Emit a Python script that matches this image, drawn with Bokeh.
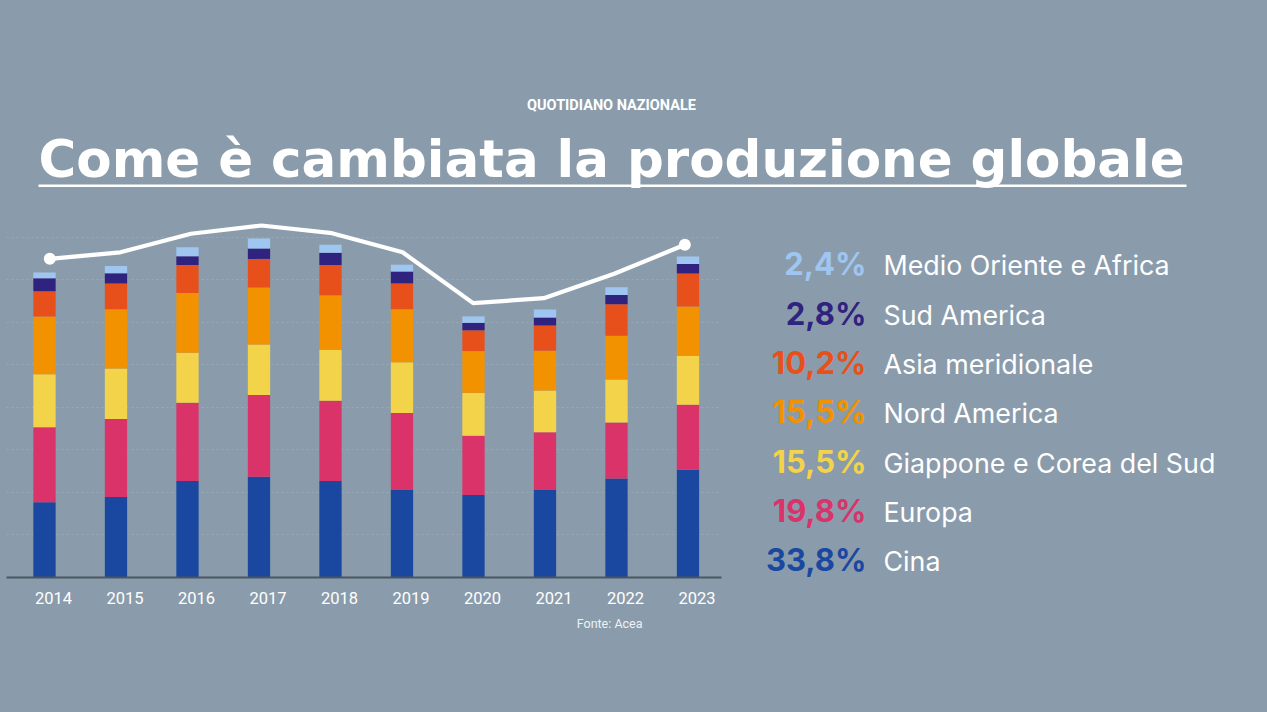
from bokeh.plotting import figure
from bokeh.models import Range1d, FixedTicker, SingleIntervalTicker, ColumnDataSource, Grid
from bokeh.layouts import column, row
from bokeh.transform import dodge
from bokeh.core.properties import value
from bokeh.embed import file_html
from bokeh.resources import INLINE

# ---------------- data ----------------
years = [2014, 2015, 2016, 2017, 2018, 2019, 2020, 2021, 2022, 2023]
# production by area (millions of vehicles)
cina = [22.1, 23.7, 28.4, 29.6, 28.4, 25.9, 24.3, 25.9, 29.1, 31.7]
europa = [22.1, 22.9, 23.0, 24.1, 23.6, 22.5, 17.4, 16.8, 16.5, 19.1]
giappone_corea = [15.6, 14.9, 14.7, 14.8, 15.0, 14.9, 12.6, 12.3, 12.6, 14.4]
nord_america = [17.0, 17.4, 17.6, 16.8, 16.0, 15.6, 12.3, 11.7, 12.9, 14.5]
asia_meridionale = [7.4, 7.6, 8.2, 8.4, 8.9, 7.6, 6.1, 7.4, 9.3, 9.7]
sud_america = [3.8, 3.0, 2.6, 3.1, 3.6, 3.5, 2.2, 2.4, 2.7, 2.8]
medio_oriente_africa = [1.7, 2.1, 2.6, 2.9, 2.4, 2.0, 1.9, 2.3, 2.3, 2.2]
# total production trend line (millions)
totale = [88.85, 90.5, 95.2, 97.3, 95.35, 90.5, 77.6, 78.85, 85.05, 92.4]

series_keys = ["cina", "europa", "giappone_corea", "nord_america",
               "asia_meridionale", "sud_america", "medio_oriente_africa"]
series_colors = ["#1a47a0", "#d9336a", "#f3d34a", "#f29200",
                 "#e8501b", "#30227f", "#9fc6f0"]

legend_pct = ["2,4%", "2,8%", "10,2%", "15,5%", "15,5%", "19,8%", "33,8%"]
legend_names = ["Medio Oriente e Africa", "Sud America", "Asia meridionale",
                "Nord America", "Giappone e Corea del Sud", "Europa", "Cina"]
legend_colors = ["#9fc6f0", "#30227f", "#e8501b", "#f29200",
                 "#f3d34a", "#d9336a", "#1a47a0"]

title_text = "Come è cambiata la produzione globale"
brand_text = "QUOTIDIANO NAZIONALE"
source_text = "Fonte: Acea"

# ---------------- style ----------------
BG = "#8a9cab"
WHITE = "#ffffff"
BL = 0.35  # baseline correction (fraction of font size)


def blank(w, h, x0, y0, top=0, bottom=0):
    f = figure(width=w, height=h,
               x_range=Range1d(x0, x0 + w),
               y_range=Range1d(y0 + h - bottom, y0 + top),
               x_axis_location=None, y_axis_location=None, toolbar_location=None,
               output_backend="svg", min_border_left=0, min_border_right=0,
               min_border_top=top, min_border_bottom=bottom)
    f.grid.visible = False
    f.outline_line_color = None
    f.background_fill_color = BG
    f.border_fill_color = BG
    return f


def put(f, x, y, txt, size, font, color, align="left", style="normal"):
    n = len(txt)
    f.text(x=x, y=[yy - BL * size for yy in y], text=txt, text_align=align,
           text_baseline="alphabetic", text_font=value(font), text_font_style=style,
           text_font_size="%gpx" % size, text_color=color)


# ---------------- title strip (screen y 0..193) ----------------
t = blank(1267, 193, 0, 0)
put(t, [611], [110], [brand_text], 14.5, "Roboto", WHITE, align="center", style="bold")
put(t, [38], [177], [title_text], 51.5, "DejaVu Sans", WHITE, style="bold")
t.segment(x0=[38], y0=[185.3], x1=[1186], y1=[185.3], line_color=WHITE, line_width=2.5)

# ---------------- chart (screen y 193..613, x 0..743) ----------------
src = ColumnDataSource(dict(year=years, cina=cina, europa=europa, giappone_corea=giappone_corea,
                            nord_america=nord_america, asia_meridionale=asia_meridionale,
                            sud_america=sud_america, medio_oriente_africa=medio_oriente_africa,
                            totale=totale))

p = figure(width=743, height=420, output_backend="svg", toolbar_location=None,
           x_range=Range1d(2013.3427, 2023.3427), y_range=Range1d(0, 106.47),
           y_axis_location=None, x_axis_location="below",
           min_border_left=6, min_border_right=22, min_border_top=22, min_border_bottom=36)
p.extra_x_ranges = {"line": Range1d(2013.3863, 2023.5195)}
p.extra_y_ranges = {"tot": Range1d(7.96, 99.84)}
p.background_fill_color = BG
p.border_fill_color = BG
p.outline_line_color = None
p.xgrid.visible = False
p.ygrid.visible = False
p.add_layout(Grid(dimension=1, ticker=SingleIntervalTicker(interval=12.5),
                  grid_line_color="#a3b2be", grid_line_dash="2 3", grid_line_width=1,
                  grid_line_alpha=0.6))

p.vbar_stack(series_keys, x=dodge("year", -0.126, range=p.x_range), width=0.312,
             color=series_colors, line_color=None, source=src)

p.line(x="year", y="totale", source=src, x_range_name="line", y_range_name="tot",
       line_color=WHITE, line_width=4.2, line_cap="round", line_join="round")
p.scatter(x=[years[0], years[-1]], y=[totale[0], totale[-1]], x_range_name="line",
          y_range_name="tot", size=12, fill_color=WHITE, line_color=None)

ax = p.xaxis[0]
ax.ticker = FixedTicker(ticks=years)
ax.major_label_overrides = {y: str(y) for y in years}
ax.axis_line_color = "#4a5662"
ax.axis_line_width = 2
ax.major_tick_line_color = None
ax.minor_tick_line_color = None
ax.major_label_standoff = 8
ax.major_label_text_color = WHITE
ax.major_label_text_font = "Roboto"
ax.major_label_text_font_size = "16.5px"

# ---------------- legend (screen x 743..1267, same frame rows as chart) ----------------
lg = blank(524, 420, 743, 193, top=22, bottom=36)
lg_y = [274.3 + 49.3 * i for i in range(len(legend_names))]
put(lg, [866] * len(legend_pct), lg_y, legend_pct, 31, "Inter", legend_colors,
    align="right", style="bold")
put(lg, [883] * len(legend_names), lg_y, legend_names, 26.8, "Inter", WHITE)

# ---------------- footer (screen y 613..712) ----------------
ft = blank(1267, 99, 0, 613)
put(ft, [642], [627], [source_text], 12.5, "Roboto", "#eef2f5", align="right")

layout = column(t, row(p, lg), ft)

html = file_html(layout, INLINE)
html = html.replace("</head>", "<style>html,body{background:%s;}</style></head>" % BG)
open("out.html", "w").write(html)
